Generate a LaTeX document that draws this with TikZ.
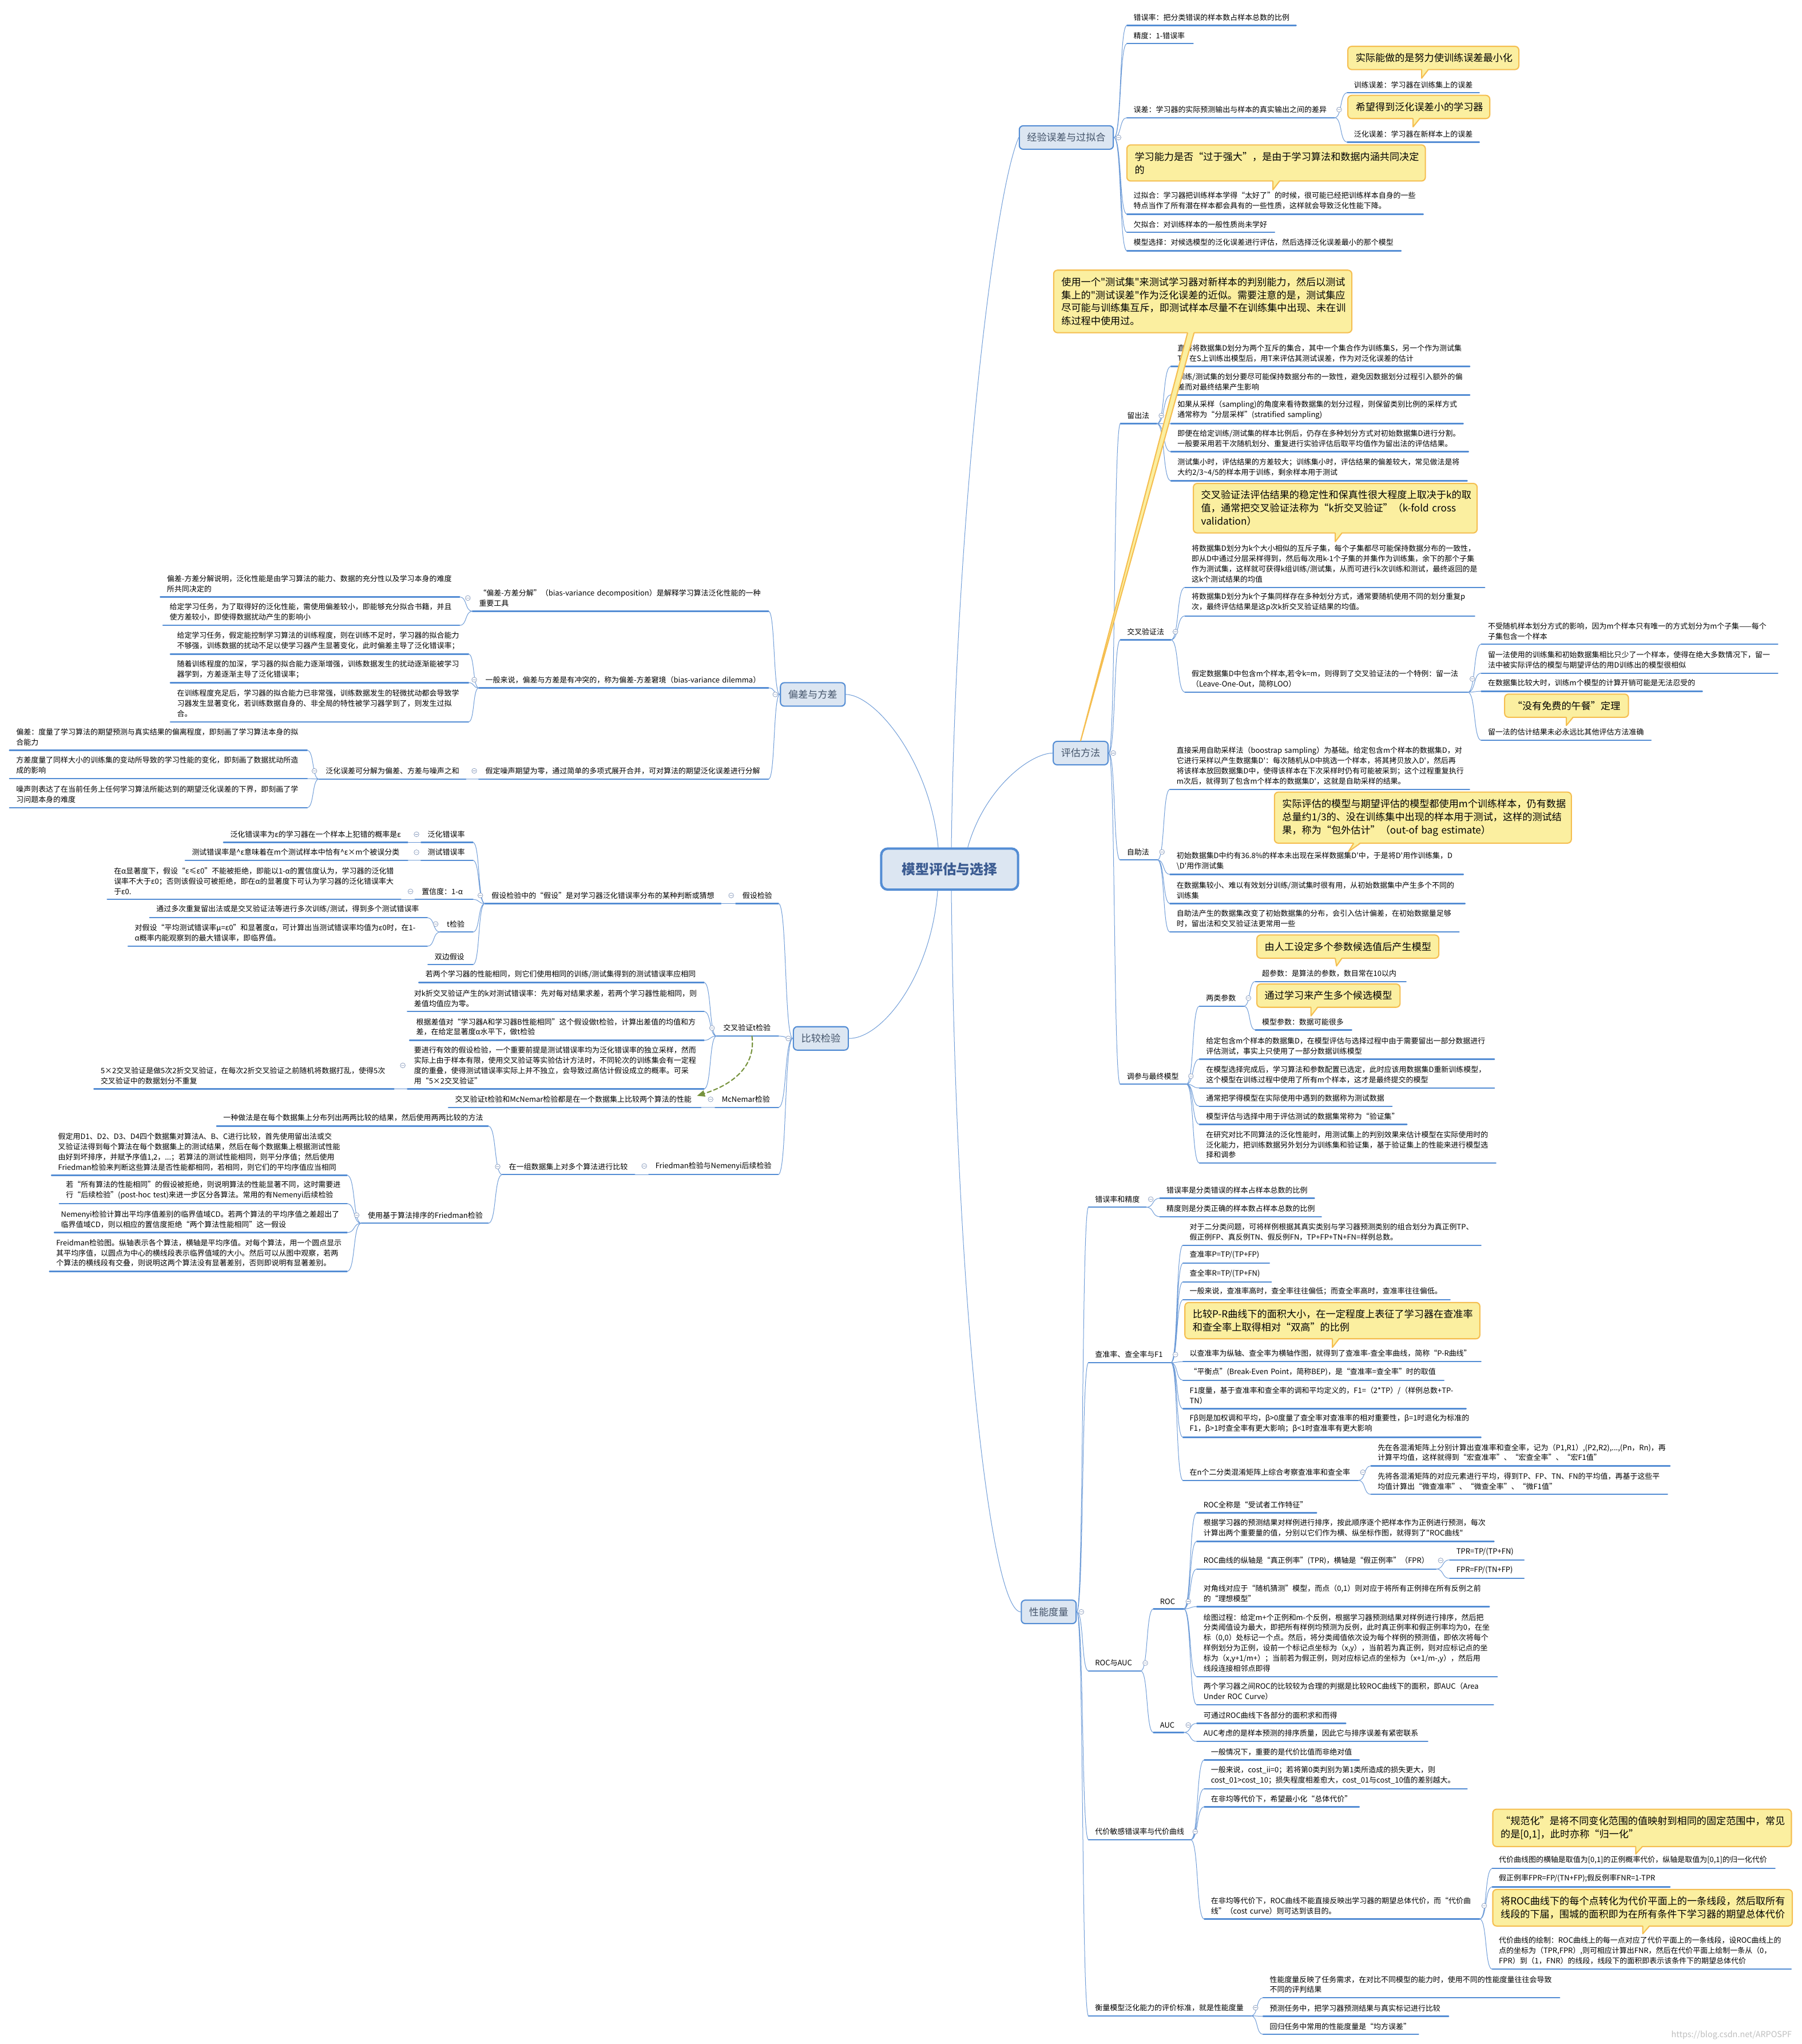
\documentclass[tikz,border=0pt]{standalone}
\usepackage{fontspec}
\setmainfont{Noto Sans CJK SC}[Ligatures=TeXOff]
\usetikzlibrary{calc,arrows.meta}

\definecolor{ulblue}{RGB}{84,141,212}
\definecolor{linkblue}{RGB}{112,157,216}
\definecolor{boxfill}{RGB}{220,230,242}
\definecolor{boxtext}{RGB}{68,84,106}
\definecolor{roottext}{RGB}{59,91,145}
\definecolor{notefill}{RGB}{251,239,160}
\definecolor{noteline}{RGB}{245,190,80}
\definecolor{foldgray}{RGB}{130,150,185}
\definecolor{relgreen}{RGB}{118,146,60}

\tikzset{
  w/.code={\pgfmathsetlengthmacro\leafw{(#1-10)*1.4226}\tikzset{text width=\leafw}},
  nw/.code={\pgfmathsetlengthmacro\notew{(#1-12)*1.4226}\tikzset{text width=\notew}},
  uline/.style={draw=ulblue, line width=0.5mm},
  leaf/.style={anchor=south west, align=left, inner xsep=2.5mm, inner ysep=1.7mm,
    font={\fontsize{8.1pt}{11.2pt}\selectfont}, w=#1,
    append after command={(\tikzlastnode.south west) edge[uline] (\tikzlastnode.south east)}},
  note/.style={anchor=north west, align=left, draw=noteline, fill=notefill, line width=0.45mm,
    rounded corners=1.5mm, inner xsep=3mm, inner ysep=2.7mm,
    font={\fontsize{10.7pt}{14.3pt}\selectfont}, nw=#1},
  branch/.style={draw=ulblue, fill=boxfill, line width=0.45mm, rounded corners=1.5mm,
    text=boxtext, font={\fontsize{10.7pt}{12pt}\selectfont}, minimum height=9mm, inner xsep=3mm},
  rootbox/.style={draw=ulblue, fill=boxfill, line width=0.9mm, rounded corners=2.5mm,
    text=roottext, font={\bfseries\fontsize{14.9pt}{16pt}\selectfont},
    minimum width=52.5mm, minimum height=15.75mm},
  link/.style={draw=linkblue, line width=0.22mm,
    to path={.. controls ($(\tikztostart)!0.6!(\tikztostart -| \tikztotarget)$)
      and ($(\tikztotarget)!0.6!(\tikztotarget -| \tikztostart)$) .. (\tikztotarget)}},
  fold/.style={draw=foldgray, fill=white, line width=0.15mm},
  rel/.style={draw=relgreen, line width=0.45mm, dash pattern=on 1.6mm off 1mm,
    -{Triangle[length=3mm,width=2.4mm]}},
  stamp/.style={anchor=base east, text=black!25, font={\fontsize{9pt}{9pt}\selectfont}}
}

% collapse marks and callout tails
\newcommand\foldr[1]{\draw[fold] ([shift={(3.5,0)}]#1.east) circle (1.9) ++(-1.1,0) -- ++(2.2,0);}
\newcommand\foldl[1]{\draw[fold] ([shift={(-3.5,0)}]#1.west) circle (1.9) ++(-1.1,0) -- ++(2.2,0);}
\newcommand\notetip[3]{%
  \fill[notefill] ($(#1.south -| #2)+(#3,-1.2)$) -- (#2) -- ($(#1.south -| #2)+(#3+5,-1.2)$) -- cycle;
  \draw[noteline, line width=0.45mm, line join=round] ($(#1.south -| #2)+(#3,-0.3)$) -- (#2)
    -- ($(#1.south -| #2)+(#3+5,-0.3)$);}

\begin{document}
\begin{tikzpicture}[x=0.05cm, y=-0.05cm, line cap=round]
  \fill[white] (0,0) rectangle (1382,1568);
  \useasboundingbox (0,0) rectangle (1382,1568);

  % centre and main branches
  \node[rootbox] (root) at (728.5,666.7) {模型评估与选择};
  \node[branch] (exp) at (818,105.5) {经验误差与过拟合};
  \node[branch] (eval) at (829,577.7) {评估方法};
  \node[branch] (bias) at (623.5,532.7) {偏差与方差};
  \node[branch] (cmp) at (629.7,796.6) {比较检验};
  \node[branch] (perf) at (804.5,1236.5) {性能度量};

  % 经验误差与过拟合
  \node[leaf=129.5] (e1) at (864.5,19.5) {错误率：把分类错误的样本数占样本总数的比例};
  \node[leaf=50.5] (e2) at (864.5,33.5) {精度：1-错误率};
  \node[leaf=159] (e3) at (864.5,90.3) {误差：学习器的实际预测输出与样本的真实输出之间的差异};
  \node[leaf=101] (e3a) at (1033.5,71.2) {训练误差：学习器在训练集上的误差};
  \node[leaf=101] (e3b) at (1033.5,109) {泛化误差：学习器在新样本上的误差};
  \node[leaf=227] (e4) at (864.5,164.3) {过拟合：学习器把训练样本学得“太好了”的时候，很可能已经把训练样本自身的一些\\特点当作了所有潜在样本都会具有的一些性质，这样就会导致泛化性能下降。};
  \node[leaf=113] (e5) at (864.5,178.3) {欠拟合：对训练样本的一般性质尚未学好};
  \node[leaf=210] (e6) at (864.5,192.4) {模型选择：对候选模型的泛化误差进行评估，然后选择泛化误差最小的那个模型};

  % 评估方法
  \node[leaf=27.6] (m1) at (859.5,325) {留出法};
  \node[leaf=229] (m1a) at (898.2,281.1) {直接将数据集D划分为两个互斥的集合，其中一个集合作为训练集S，另一个作为测试集\\T，在S上训练出模型后，用T来评估其测试误差，作为对泛化误差的估计};
  \node[leaf=229] (m1b) at (898.2,303) {训练/测试集的划分要尽可能保持数据分布的一致性，避免因数据划分过程引入额外的偏\\差而对最终结果产生影响};
  \node[leaf=224] (m1c) at (898.2,325) {如果从采样（sampling)的角度来看待数据集的划分过程，则保留类别比例的采样方式\\通常称为“分层采样”(stratified~sampling)};
  \node[leaf=228] (m1d) at (898.2,346.5) {即便在给定训练/测试集的样本比例后，仍存在多种划分方式对初始数据集D进行分割。\\一般要采用若干次随机划分、重复进行实验评估后取平均值作为留出法的评估结果。};
  \node[leaf=227] (m1e) at (898.2,368.8) {测试集小时，评估结果的方差较大；训练集小时，评估结果的偏差较大，常见做法是将\\大约2/3\textasciitilde 4/5的样本用于训练，剩余样本用于测试};
  \node[leaf=38.4] (m2) at (859.5,490.8) {交叉验证法};
  \node[leaf=229.7] (m2a) at (909,450.6) {将数据集D划分为k个大小相似的互斥子集，每个子集都尽可能保持数据分布的一致性，\\即从D中通过分层采样得到，然后每次用k-1个子集的并集作为训练集，余下的那个子集\\作为测试集，这样就可获得k组训练/测试集，从而可进行k次训练和测试，最终返回的是\\这k个测试结果的均值};
  \node[leaf=222] (m2b) at (909,472.5) {将数据集D划分为k个子集同样存在多种划分方式，通常要随机使用不同的划分重复p\\次，最终评估结果是这p次k折交叉验证结果的均值。};
  \node[leaf=216.7] (m2c) at (909,531) {假定数据集D中包含m个样本,若令k=m，则得到了交叉验证法的一个特例：留一法\\（Leave-One-Out，简称LOO）};
  \node[leaf=227.2] (m2c1) at (1136.3,494.2) {不受随机样本划分方式的影响，因为m个样本只有唯一的方式划分为m个子集——每个\\子集包含一个样本};
  \node[leaf=227.2] (m2c2) at (1136.3,516.4) {留一法使用的训练集和初始数据集相比只少了一个样本，使得在绝大多数情况下，留一\\法中被实际评估的模型与期望评估的用D训练出的模型很相似};
  \node[leaf=169.3] (m2c3) at (1136.3,530.3) {在数据集比较大时，训练m个模型的计算开销可能是无法忍受的};
  \node[leaf=130] (m2c4) at (1136.3,567.9) {留一法的估计结果未必永远比其他评估方法准确};
  \node[leaf=28.3] (m3) at (859.3,659.7) {自助法};
  \node[leaf=229.5] (m3a) at (897.5,605.5) {直接采用自助采样法（boostrap~sampling）为基础。给定包含m个样本的数据集D，对\\它进行采样以产生数据集D'：每次随机从D中挑选一个样本，将其拷贝放入D'，然后再\\将该样本放回数据集D中，使得该样本在下次采样时仍有可能被采到；这个过程重复执行\\m次后，就得到了包含m个样本的数据集D'，这就是自助采样的结果。};
  \node[leaf=224.8] (m3b) at (897.5,670.8) {初始数据集D中约有36.8\%的样本未出现在采样数据集D'中，于是将D'用作训练集，D\\\textbackslash D'用作测试集};
  \node[leaf=226.1] (m3c) at (897.5,693.1) {在数据集较小、难以有效划分训练/测试集时很有用，从初始数据集中产生多个不同的\\训练集};
  \node[leaf=221.5] (m3d) at (897.5,715) {自助法产生的数据集改变了初始数据集的分布，会引入估计偏差，在初始数据量足够\\时，留出法和交叉验证法更常用一些};
  \node[leaf=50.5] (m4) at (859.3,831.7) {调参与最终模型};
  \node[leaf=33.8] (m4a) at (920.1,771.8) {两类参数};
  \node[leaf=115.3] (m4a1) at (963,752.9) {超参数：是算法的参数，数目常在10以内};
  \node[leaf=73.6] (m4a2) at (963,790.1) {模型参数：数据可能很多};
  \node[leaf=226] (m4b) at (920.1,812.5) {给定包含m个样本的数据集D，在模型评估与选择过程中由于需要留出一部分数据进行\\评估测试，事实上只使用了一部分数据训练模型};
  \node[leaf=226] (m4c) at (920.1,834.6) {在模型选择完成后，学习算法和参数配置已选定，此时应该用数据集D重新训练模型，\\这个模型在训练过程中使用了所有m个样本，这才是最终提交的模型};
  \node[leaf=147.5] (m4d) at (920.1,848.6) {通常把学得模型在实际使用中遇到的数据称为测试数据};
  \node[leaf=158.9] (m4e) at (920.1,862.5) {模型评估与选择中用于评估测试的数据集常称为“验证集”};
  \node[leaf=227.1] (m4f) at (920.1,892.2) {在研究对比不同算法的泛化性能时，用测试集上的判别效果来估计模型在实际使用时的\\泛化能力，把训练数据另外划分为训练集和验证集，基于验证集上的性能来进行模型选\\择和调参};

  % 偏差与方差
  \node[leaf=226.9] (b1) at (362.4,468.9) {“偏差-方差分解”（bias-variance~decomposition）是解释学习算法泛化性能的一种\\重要工具};
  \node[leaf=229.3] (b1a) at (123,457.9) {偏差-方差分解说明，泛化性能是由学习算法的能力、数据的充分性以及学习本身的难度\\所共同决定的};
  \node[leaf=227.3] (b1b) at (125,479.8) {给定学习任务，为了取得好的泛化性能，需使用偏差较小，即能够充分拟合书籍，并且\\使方差较小，即使得数据扰动产生的影响小};
  \node[leaf=222] (b2) at (367.3,527.7) {一般来说，偏差与方差是有冲突的，称为偏差-方差窘境（bias-variance~dilemma）};
  \node[leaf=228.5] (b2a) at (130.7,501.8) {给定学习任务，假定能控制学习算法的训练程度，则在训练不足时，学习器的拟合能力\\不够强，训练数据的扰动不足以使学习器产生显著变化，此时偏差主导了泛化错误率；};
  \node[leaf=228.5] (b2b) at (130.7,523.7) {随着训练程度的加深，学习器的拟合能力逐渐增强，训练数据发生的扰动逐渐能被学习\\器学到，方差逐渐主导了泛化错误率；};
  \node[leaf=228.5] (b2c) at (130.7,553.7) {在训练程度充足后，学习器的拟合能力已非常强，训练数据发生的轻微扰动都会导致学\\习器发生显著变化，若训练数据自身的、非全局的特性被学习器学到了，则发生过拟\\合。};
  \node[leaf=222] (b3) at (367.3,597.6) {假定噪声期望为零，通过简单的多项式展开合并，可对算法的期望泛化误差进行分解};
  \node[leaf=112.4] (b3a) at (244.7,597.6) {泛化误差可分解为偏差、方差与噪声之和};
  \node[leaf=228.1] (b3a1) at (7.3,575.6) {偏差：度量了学习算法的期望预测与真实结果的偏离程度，即刻画了学习算法本身的拟\\合能力};
  \node[leaf=228.1] (b3a2) at (7.3,597.3) {方差度量了同样大小的训练集的变动所导致的学习性能的变化，即刻画了数据扰动所造\\成的影响};
  \node[leaf=228.1] (b3a3) at (7.3,619.5) {噪声则表达了在当前任务上任何学习算法所能达到的期望泛化误差的下界，即刻画了学\\习问题本身的难度};

  % 比较检验
  \node[leaf=32.5] (t1) at (564.4,693.1) {假设检验};
  \node[leaf=180.8] (t1a) at (372,693.1) {假设检验中的“假设”是对学习器泛化错误率分布的某种判断或猜想};
  \node[leaf=39.5] (t1a1) at (323,646.2) {泛化错误率};
  \node[leaf=141] (t1a1a) at (171.5,646.2) {泛化错误率为ε的学习器在一个样本上犯错的概率是ε};
  \node[leaf=39.5] (t1a2) at (323,660) {测试错误率};
  \node[leaf=170.4] (t1a2a) at (142.1,660) {测试错误率是\textasciicircum ε意味着在m个测试样本中恰有\textasciicircum ε×m个被误分类};
  \node[leaf=44.1] (t1a3) at (318.4,690) {置信度：1-α};
  \node[leaf=224.9] (t1a3a) at (82.3,690) {在α显著度下，假设“ε≤ε0”不能被拒绝，即能以1-α的置信度认为，学习器的泛化错\\误率不大于ε0；否则该假设可被拒绝，即在α的显著度下可认为学习器的泛化错误率大\\于ε0.};
  \node[leaf=24.8] (t1a4) at (337.7,715) {t检验};
  \node[leaf=212.7] (t1a4a) at (114.8,704) {通过多次重复留出法或是交叉验证法等进行多次训练/测试，得到多个测试错误率};
  \node[leaf=229.2] (t1a4b) at (98.3,725.9) {对假设“平均测试错误率μ=ε0”和显著度α，可计算出当测试错误率均值为ε0时，在1-\\α概率内能观察到的最大错误率，即临界值。};
  \node[leaf=34.2] (t1a5) at (328.3,740) {双边假设};
  \node[leaf=47.2] (t2) at (549.7,794.8) {交叉验证t检验};
  \node[leaf=218.5] (t2a) at (321.3,753.7) {若两个学习器的性能相同，则它们使用相同的训练/测试集得到的测试错误率应相同};
  \node[leaf=227.3] (t2b) at (312.5,776) {对k折交叉验证产生的k对测试错误率：先对每对结果求差，若两个学习器性能相同，则\\差值均值应为零。};
  \node[leaf=225.6] (t2c) at (314.2,798) {根据差值对“学习器A和学习器B性能相同”这个假设做t检验，计算出差值的均值和方\\差，在给定显著度α水平下，做t检验};
  \node[leaf=227.3] (t2d) at (312.5,835.3) {要进行有效的假设检验，一个重要前提是测试错误率均为泛化错误率的独立采样，然而\\实际上由于样本有限，使用交叉验证等实验估计方法时，不同轮次的训练集会有一定程\\度的重叠，使得测试错误率实际上并不独立，会导致过高估计假设成立的概率。可采\\用“5×2交叉验证”};
  \node[leaf=229.9] (t2d1) at (72.1,835.3) {5×2交叉验证是做5次2折交叉验证，在每次2折交叉验证之前随机将数据打乱，使得5次\\交叉验证中的数据划分不重复};
  \node[leaf=48.3] (t3) at (548.6,849.5) {McNemar检验};
  \node[leaf=193.4] (t3a) at (344,849.5) {交叉验证t检验和McNemar检验都是在一个数据集上比较两个算法的性能};
  \node[leaf=99] (t4) at (497.7,901.1) {Friedman检验与Nemenyi后续检验};
  \node[leaf=101.3] (t4a) at (385.3,901.1) {在一组数据集上对多个算法进行比较};
  \node[leaf=208.1] (t4a1) at (166.2,863.8) {一种做法是在每个数据集上分布列出两两比较的结果，然后使用两两比较的方法};
  \node[leaf=97.2] (t4a2) at (277.1,938.4) {使用基于算法排序的Friedman检验};
  \node[leaf=226.5] (t4a2a) at (39.5,901.6) {假定用D1、D2、D3、D4四个数据集对算法A、B、C进行比较，首先使用留出法或交\\叉验证法得到每个算法在每个数据集上的测试结果，然后在每个数据集上根据测试性能\\由好到坏排序，并赋予序值1,2，...；若算法的测试性能相同，则平分序值；然后使用\\Friedman检验来判断这些算法是否性能都相同，若相同，则它们的平均序值应当相同};
  \node[leaf=220.5] (t4a2b) at (45.5,923.4) {若“所有算法的性能相同”的假设被拒绝，则说明算法的性能显著不同，这时需要进\\行“后续检验”(post-hoc~test)来进一步区分各算法。常用的有Nemenyi后续检验};
  \node[leaf=224.3] (t4a2c) at (41.7,945.5) {Nemenyi检验计算出平均序值差别的临界值域CD。若两个算法的平均序值之差超出了\\临界值域CD，则以相应的置信度拒绝“两个算法性能相同”这一假设};
  \node[leaf=228] (t4a2d) at (38,975.3) {Freidman检验图。纵轴表示各个算法，横轴是平均序值。对每个算法，用一个圆点显示\\其平均序值，以圆点为中心的横线段表示临界值域的大小。然后可以从图中观察，若两\\个算法的横线段有交叠，则说明这两个算法没有显著差别，否则即说明有显著差别。};

  % 性能度量
  \node[leaf=44] (p1) at (835,926.1) {错误率和精度};
  \node[leaf=118.3] (p1a) at (889.7,919.2) {错误率是分类错误的样本占样本总数的比例};
  \node[leaf=123.7] (p1b) at (889.7,933.3) {精度则是分类正确的样本数占样本总数的比例};
  \node[leaf=62.9] (p2) at (835,1045.3) {查准率、查全率与F1};
  \node[leaf=228.3] (p2a) at (907.5,955.2) {对于二分类问题，可将样例根据其真实类别与学习器预测类别的组合划分为真正例TP、\\假正例FP、真反例TN、假反例FN，TP+FP+TN+FN=样例总数。};
  \node[leaf=66] (p2b) at (907.5,969.1) {查准率P=TP/(TP+FP)};
  \node[leaf=67.5] (p2c) at (907.5,983.3) {查全率R=TP/(TP+FN)};
  \node[leaf=204.6] (p2d) at (907.5,997.1) {一般来说，查准率高时，查全率往往偏低；而查全率高时，查准率往往偏低。};
  \node[leaf=228.3] (p2e) at (907.5,1044.6) {以查准率为纵轴、查全率为横轴作图，就得到了查准率-查全率曲线，简称“P-R曲线”};
  \node[leaf=199.9] (p2f) at (907.5,1058.8) {“平衡点”(Break-Even~Point，简称BEP)，是“查准率=查全率”时的取值};
  \node[leaf=216.9] (p2g) at (907.5,1080.7) {F1度量，基于查准率和查全率的调和平均定义的，F1=（2*TP）/（样例总数+TP-\\TN）};
  \node[leaf=228.3] (p2h) at (907.5,1102.6) {Fβ则是加权调和平均，β>0度量了查全率对查准率的相对重要性，β=1时退化为标准的\\F1，β>1时查全率有更大影响；β<1时查准率有更大影响};
  \node[leaf=134.2] (p2i) at (907.5,1135.6) {在n个二分类混淆矩阵上综合考察查准率和查全率};
  \node[leaf=229.1] (p2i1) at (1051.7,1124.5) {先在各混淆矩阵上分别计算出查准率和查全率，记为（P1,R1）,(P2,R2),...,(Pn，Rn)，再\\计算平均值，这样就得到“宏查准率”、“宏查全率”、“宏F1值”};
  \node[leaf=227.2] (p2i2) at (1051.7,1146.4) {先将各混淆矩阵的对应元素进行平均，得到TP、FP、TN、FN的平均值，再基于这些平\\均值计算出“微查准率”、“微查全率”、“微F1值”};
  \node[leaf=39.8] (p3) at (835,1281.8) {ROC与AUC};
  \node[leaf=23] (p3a) at (884.8,1234.2) {ROC};
  \node[leaf=91.6] (p3a1) at (918.1,1160.5) {ROC全称是“受试者工作特征”};
  \node[leaf=227.7] (p3a2) at (918.1,1182.4) {根据学习器的预测结果对样例进行排序，按此顺序逐个把样本作为正例进行预测，每次\\计算出两个重要量的值，分别以它们作为横、纵坐标作图，就得到了"ROC曲线"};
  \node[leaf=183.3] (p3a3) at (918.1,1203.6) {ROC曲线的纵轴是“真正例率”(TPR)，横轴是“假正例率”（FPR）};
  \node[leaf=56.7] (p3a3a) at (1112.1,1196.6) {TPR=TP/(TP+FN)};
  \node[leaf=56.7] (p3a3b) at (1112.1,1210.8) {FPR=FP/(TN+FP)};
  \node[leaf=224.1] (p3a4) at (918.1,1232.5) {对角线对应于“随机猜测”模型，而点（0,1）则对应于将所有正例排在所有反例之前\\的“理想模型”};
  \node[leaf=230.2] (p3a5) at (918.1,1286.2) {绘图过程：给定m+个正例和m-个反例，根据学习器预测结果对样例进行排序，然后把\\分类阈值设为最大，即把所有样例均预测为反例，此时真正例率和假正例率均为0，在坐\\标（0,0）处标记一个点。然后，将分类阈值依次设为每个样例的预测值，即依次将每个\\样例划分为正例，设前一个标记点坐标为（x,y），当前若为真正例，则对应标记点的坐\\标为（x,y+1/m+）；当前若为假正例，则对应标记点的坐标为（x+1/m-,y），然后用\\线段连接相邻点即得};
  \node[leaf=227.3] (p3a6) at (918.1,1307.8) {两个学习器之间ROC的比较较为合理的判据是比较ROC曲线下的面积，即AUC（Area\\Under~ROC~Curve）};
  \node[leaf=23] (p3b) at (884.8,1329) {AUC};
  \node[leaf=114] (p3b1) at (918.1,1322) {可通过ROC曲线下各部分的面积求和而得};
  \node[leaf=176.9] (p3b2) at (918.1,1335.9) {AUC考虑的是样本预测的排序质量，因此它与排序误差有紧密联系};
  \node[leaf=78.1] (p4) at (835,1411.3) {代价敏感错误率与代价曲线};
  \node[leaf=118.6] (p4a) at (923.8,1350.1) {一般情况下，重要的是代价比值而非绝对值};
  \node[leaf=201.4] (p4b) at (923.8,1372.2) {一般来说，cost\_ii=0；若将第0类判别为第1类所造成的损失更大，则\\cost\_01>cost\_10；损失程度相差愈大，cost\_01与cost\_10值的差别越大。};
  \node[leaf=118.6] (p4c) at (923.8,1386.1) {在非均等代价下，希望最小化“总体代价”};
  \node[leaf=211] (p4d) at (923.8,1472.1) {在非均等代价下，ROC曲线不能直接反映出学习器的期望总体代价，而“代价曲\\线”（cost~curve）则可达到该目的。};
  \node[leaf=216.7] (p4d1) at (1144.7,1433.4) {代价曲线图的横轴是取值为[0,1]的正例概率代价，纵轴是取值为[0,1]的归一化代价};
  \node[leaf=136.1] (p4d2) at (1144.7,1447.5) {假正例率FPR=FP/(TN+FP);假反例率FNR=1-TPR};
  \node[leaf=229.1] (p4d3) at (1144.7,1510.6) {代价曲线的绘制：ROC曲线上的每一点对应了代价平面上的一条线段，设ROC曲线上的\\点的坐标为（TPR,FPR）,则可相应计算出FNR，然后在代价平面上绘制一条从（0，\\FPR）到（1，FNR）的线段，线段下的面积即表示该条件下的期望总体代价};
  \node[leaf=124.4] (p5) at (835,1546.4) {衡量模型泛化能力的评价标准，就是性能度量};
  \node[leaf=227.3] (p5a) at (968.9,1532.5) {性能度量反映了任务需求，在对比不同模型的能力时，使用不同的性能度量往往会导致\\不同的评判结果};
  \node[leaf=142.1] (p5b) at (968.9,1546.7) {预测任务中，把学习器预测结果与真实标记进行比较};
  \node[leaf=119] (p5c) at (968.9,1560.6) {回归任务中常用的性能度量是“均方误差”};

  % connectors
  \draw[link] ([shift={(1.3,0)}]root.north) .. controls (733,400) and (762,150) .. (exp.west);
  \draw[link] ([shift={(13.9,0)}]root.north) .. controls (755,605) and (790,578) .. (eval.west);
  \draw[link] ([shift={(-8.8,0)}]root.north) .. controls (714,585) and (672,533) .. (bias.east);
  \draw[link] ([shift={(-9.2,0)}]root.south) .. controls (714,750) and (676,797) .. (cmp.east);
  \draw[link] ([shift={(1.3,0)}]root.south) .. controls (733,1000) and (760,1236) .. (perf.west);

  \draw[link] (exp.east) to (e1.south west) (exp.east) to (e2.south west) (exp.east) to (e3.south west)
    (exp.east) to (e4.south west) (exp.east) to (e5.south west) (exp.east) to (e6.south west);
  \draw[link] (e3.south east) to (e3a.south west) (e3.south east) to (e3b.south west);

  \draw[link] (eval.east) to (m1.south west) (eval.east) to (m2.south west)
    (eval.east) to (m3.south west) (eval.east) to (m4.south west);
  \draw[link] (m1.south east) to (m1a.south west) (m1.south east) to (m1b.south west)
    (m1.south east) to (m1c.south west) (m1.south east) to (m1d.south west) (m1.south east) to (m1e.south west);
  \draw[link] (m2.south east) to (m2a.south west) (m2.south east) to (m2b.south west) (m2.south east) to (m2c.south west);
  \draw[link] (m2c.south east) to (m2c1.south west) (m2c.south east) to (m2c2.south west)
    (m2c.south east) to (m2c3.south west) (m2c.south east) to (m2c4.south west);
  \draw[link] (m3.south east) to (m3a.south west) (m3.south east) to (m3b.south west)
    (m3.south east) to (m3c.south west) (m3.south east) to (m3d.south west);
  \draw[link] (m4.south east) to (m4a.south west) (m4.south east) to (m4b.south west) (m4.south east) to (m4c.south west)
    (m4.south east) to (m4d.south west) (m4.south east) to (m4e.south west) (m4.south east) to (m4f.south west);
  \draw[link] (m4a.south east) to (m4a1.south west) (m4a.south east) to (m4a2.south west);

  \draw[link] (bias.west) to (b1.south east) (bias.west) to (b2.south east) (bias.west) to (b3.south east);
  \draw[link] (b1.south west) to (b1a.south east) (b1.south west) to (b1b.south east);
  \draw[link] (b2.south west) to (b2a.south east) (b2.south west) to (b2b.south east) (b2.south west) to (b2c.south east);
  \draw[link] (b3.south west) to (b3a.south east);
  \draw[link] (b3a.south west) to (b3a1.south east) (b3a.south west) to (b3a2.south east) (b3a.south west) to (b3a3.south east);

  \draw[link] (cmp.west) to (t1.south east) (cmp.west) to (t2.south east) (cmp.west) to (t3.south east) (cmp.west) to (t4.south east);
  \draw[link] (t1.south west) to (t1a.south east);
  \draw[link] (t1a.south west) to (t1a1.south east) (t1a.south west) to (t1a2.south east) (t1a.south west) to (t1a3.south east)
    (t1a.south west) to (t1a4.south east) (t1a.south west) to (t1a5.south east);
  \draw[link] (t1a1.south west) to (t1a1a.south east);
  \draw[link] (t1a2.south west) to (t1a2a.south east);
  \draw[link] (t1a3.south west) to (t1a3a.south east);
  \draw[link] (t1a4.south west) to (t1a4a.south east) (t1a4.south west) to (t1a4b.south east);
  \draw[link] (t2.south west) to (t2a.south east) (t2.south west) to (t2b.south east) (t2.south west) to (t2c.south east)
    (t2.south west) to (t2d.south east);
  \draw[link] (t2d.south west) to (t2d1.south east);
  \draw[link] (t3.south west) to (t3a.south east);
  \draw[link] (t4.south west) to (t4a.south east);
  \draw[link] (t4a.south west) to (t4a1.south east) (t4a.south west) to (t4a2.south east);
  \draw[link] (t4a2.south west) to (t4a2a.south east) (t4a2.south west) to (t4a2b.south east)
    (t4a2.south west) to (t4a2c.south east) (t4a2.south west) to (t4a2d.south east);

  \draw[link] (perf.east) to (p1.south west) (perf.east) to (p2.south west) (perf.east) to (p3.south west)
    (perf.east) to (p4.south west) (perf.east) to (p5.south west);
  \draw[link] (p1.south east) to (p1a.south west) (p1.south east) to (p1b.south west);
  \draw[link] (p2.south east) to (p2a.south west) (p2.south east) to (p2b.south west) (p2.south east) to (p2c.south west)
    (p2.south east) to (p2d.south west) (p2.south east) to (p2e.south west) (p2.south east) to (p2f.south west)
    (p2.south east) to (p2g.south west) (p2.south east) to (p2h.south west) (p2.south east) to (p2i.south west);
  \draw[link] (p2i.south east) to (p2i1.south west) (p2i.south east) to (p2i2.south west);
  \draw[link] (p3.south east) to (p3a.south west) (p3.south east) to (p3b.south west);
  \draw[link] (p3a.south east) to (p3a1.south west) (p3a.south east) to (p3a2.south west) (p3a.south east) to (p3a3.south west)
    (p3a.south east) to (p3a4.south west) (p3a.south east) to (p3a5.south west) (p3a.south east) to (p3a6.south west);
  \draw[link] (p3a3.south east) to (p3a3a.south west) (p3a3.south east) to (p3a3b.south west);
  \draw[link] (p3b.south east) to (p3b1.south west) (p3b.south east) to (p3b2.south west);
  \draw[link] (p4.south east) to (p4a.south west) (p4.south east) to (p4b.south west)
    (p4.south east) to (p4c.south west) (p4.south east) to (p4d.south west);
  \draw[link] (p4d.south east) to (p4d1.south west) (p4d.south east) to (p4d2.south west) (p4d.south east) to (p4d3.south west);
  \draw[link] (p5.south east) to (p5a.south west) (p5.south east) to (p5b.south west) (p5.south east) to (p5c.south west);

  % collapse marks
  \foldr{exp} \foldr{eval} \foldr{perf} \foldl{bias} \foldl{cmp}
  \foldr{e3} \foldr{m1} \foldr{m2} \foldr{m2c} \foldr{m3} \foldr{m4} \foldr{m4a}
  \foldr{p1} \foldr{p2} \foldr{p2i} \foldr{p3} \foldr{p3a} \foldr{p3a3} \foldr{p3b} \foldr{p4} \foldr{p4d} \foldr{p5}
  \foldl{b1} \foldl{b2} \foldl{b3} \foldl{b3a}
  \foldl{t1} \foldl{t1a} \foldl{t1a1} \foldl{t1a2} \foldl{t1a3} \foldl{t1a4} \foldl{t2} \foldl{t2d}
  \foldl{t3} \foldl{t4} \foldl{t4a} \foldl{t4a2}

  % callouts
  \node[note=131.2] (c1) at (1033.5,35.1) {实际能做的是努力使训练误差最小化};
  \coordinate (c1t) at (1090.6,60);
  \notetip{c1}{c1t}{0}
  \node[note=108.9] (c2) at (1033.5,72.7) {希望得到泛化误差小的学习器};
  \coordinate (c2t) at (1084,97.3);
  \notetip{c2}{c2t}{0}
  \node[note=229] (c3) at (864,110.7) {学习能力是否“过于强大”，是由于学习算法和数据内涵共同决定\\的};
  \coordinate (c3t) at (976.5,145.6);
  \notetip{c3}{c3t}{0}
  \node[note=228.8] (c4) at (807.8,206.8) {使用一个"测试集"来测试学习器对新样本的判别能力，然后以测试\\集上的"测试误差"作为泛化误差的近似。需要注意的是，测试集应\\尽可能与训练集互斥，即测试样本尽量不在训练集中出现、未在训\\练过程中使用过。};
  \notetip{c4}{eval.north}{82}
  \node[note=217.7] (c5) at (915,370.4) {交叉验证法评估结果的稳定性和保真性很大程度上取决于k的取\\值，通常把交叉验证法称为“k折交叉验证”（k-fold~cross\\validation）};
  \coordinate (c5t) at (1024.3,415.5);
  \notetip{c5}{c5t}{0}
  \node[note=95] (c6) at (1153.8,532) {“没有免费的午餐”定理};
  \coordinate (c6t) at (1201.6,556.5);
  \notetip{c6}{c6t}{0}
  \node[note=227.8] (c7) at (977.2,607.2) {实际评估的模型与期望评估的模型都使用m个训练样本，仍有数据\\总量约1/3的、没在训练集中出现的样本用于测试，这样的测试结\\果，称为“包外估计”（out-of~bag~estimate）};
  \coordinate (c7t) at (1034.4,653.3);
  \notetip{c7}{c7t}{4}
  \node[note=139.6] (c8) at (963.7,716.8) {由人工设定多个参数候选值后产生模型};
  \coordinate (c8t) at (1025.3,741);
  \notetip{c8}{c8t}{-1}
  \node[note=109.9] (c9) at (963.7,754.4) {通过学习来产生多个候选模型};
  \coordinate (c9t) at (1005.7,779.3);
  \notetip{c9}{c9t}{0}
  \node[note=226.3] (c10) at (908.5,998.7) {比较P-R曲线下的面积大小，在一定程度上表征了学习器在查准率\\和查全率上取得相对“双高”的比例};
  \coordinate (c10t) at (1022.1,1033.6);
  \notetip{c10}{c10t}{0}
  \node[note=229.1] (c11) at (1144.7,1387.4) {“规范化”是将不同变化范围的值映射到相同的固定范围中，常见\\的是[0,1]，此时亦称“归一化”};
  \coordinate (c11t) at (1254.8,1422.2);
  \notetip{c11}{c11t}{0}
  \node[note=229.8] (c12) at (1144.7,1449) {将ROC曲线下的每个点转化为代价平面上的一条线段，然后取所有\\线段的下届，围城的面积即为在所有条件下学习器的期望总体代价};
  \coordinate (c12t) at (1260.2,1483.4);
  \notetip{c12}{c12t}{0}

  % relation
  \draw[rel] ([shift={(3.4,0)}]t2.south) .. controls (580,818) and (562,832) .. ([shift={(-3,3.5)}]t3a.north east);

  \node[stamp] (wm) at (1377,1563) {https://blog.csdn.net/ARPOSPF};
\end{tikzpicture}
\end{document}
